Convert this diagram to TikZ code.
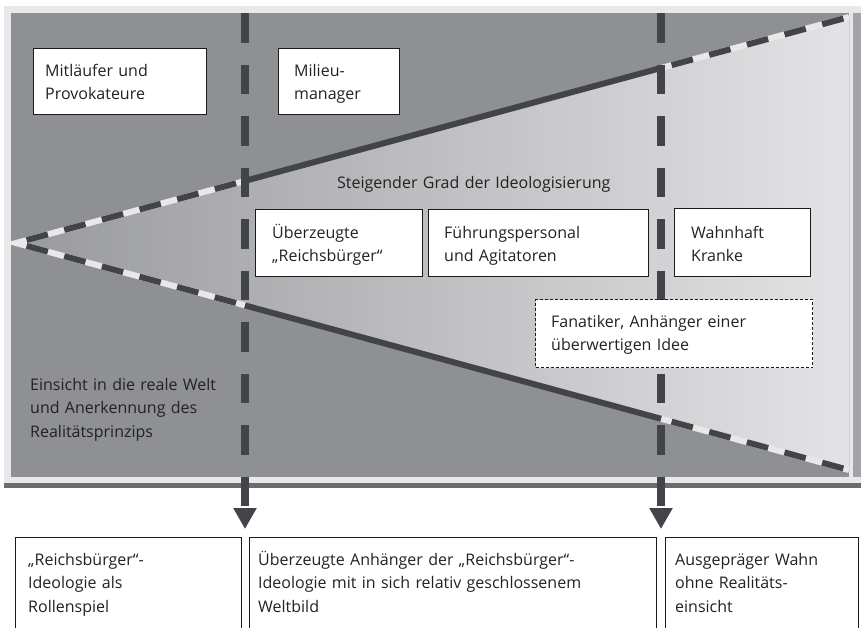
\documentclass[tikz,border=0pt]{standalone}
\usepackage{fontspec}
\setmainfont{Open Sans}
\usetikzlibrary{calc,arrows.meta}
\definecolor{bggray}{HTML}{8F9094}
\definecolor{framelight}{HTML}{E8E8EA}
\definecolor{frameright}{HTML}{A3A4A7}
\definecolor{framedark}{HTML}{6B6C6F}
\definecolor{trileft}{HTML}{999A9D}
\definecolor{triright}{HTML}{E3E3E5}
\definecolor{linedark}{HTML}{434447}
\definecolor{linelight}{HTML}{E8E8E8}
\definecolor{txt}{HTML}{222222}
\definecolor{boxline}{HTML}{1A1A1A}
\begin{document}
\begin{tikzpicture}[x=1pt,y=-1pt,
  box/.style={draw=boxline,line width=1pt,fill=white,inner sep=0pt,anchor=north west},
  dashbox/.style={box,dash pattern=on 3pt off 2pt},
  lbl/.style={anchor=base west,inner sep=0pt,align=left,text=txt,text width=#1,
    font=\fontsize{16}{23.5}\selectfont},
  lbl/.default=200pt,
  vline/.style={draw=linedark,line width=7.5pt,dash pattern=on 29.5pt off 22pt,
    -{Triangle[width=22pt,length=21pt]}},
  whiteline/.style={draw=linelight,line width=6pt,line join=miter},
  darkdash/.style={draw=linedark,line width=6pt,dash pattern=on 22pt off 17pt,dash phase=28pt},
  darksolid/.style={draw=linedark,line width=6pt}
]
\clip (0,0) rectangle (861,627);
\fill[white] (0,0) rectangle (861,627);
% frame
\fill[framelight] (4,6) rectangle (861,483);
\fill[frameright] (853,13) rectangle (861,477);
\fill[framedark] (4,483) rectangle (861,488);
\fill[bggray] (11,13) rectangle (849,477);
% triangle
\coordinate (apex) at (16,243);
\coordinate (ue) at (849,17);
\coordinate (le) at (849,470);
\coordinate (u1) at ($(apex)!0.2749!(ue)$);
\coordinate (u2) at ($(apex)!0.7743!(ue)$);
\coordinate (l1) at ($(apex)!0.2749!(le)$);
\coordinate (l2) at ($(apex)!0.7743!(le)$);
\fill[left color=trileft,right color=triright] (apex) -- (ue) -- (le) -- cycle;
\draw[whiteline] (u1) -- (apex) -- (l1);
\draw[whiteline] (u2) -- (ue);
\draw[whiteline] (l2) -- (le);
\draw[darkdash] (apex) -- (u1);
\draw[darkdash] (apex) -- (l1);
\draw[darkdash] (u2) -- (ue);
\draw[darkdash] (l2) -- (le);
\draw[darksolid] (u1) -- (u2);
\draw[darksolid] (l1) -- (l2);
% vertical dashed lines with arrows
\coordinate (v1top) at (245,13);
\coordinate (v1tip) at (245,529);
\coordinate (v2top) at (661,13);
\coordinate (v2tip) at (661,529);
\draw[vline] (v1top) -- (v1tip);
\draw[vline] (v2top) -- (v2tip);
% boxes in the upper part
\node[box,minimum width=173pt,minimum height=66pt] (mitlbox) at (33,48) {};
\node[lbl] (mitl) at (45,76) {Mitläufer und\\Provokateure};
\node[box,minimum width=121pt,minimum height=66pt] (milbox) at (278,48) {};
\node[lbl] (mil) at (294,76) {Milieu-\\manager};
\node[lbl=320pt] (steig) at (337,188) {Steigender Grad der Ideologisierung};
\node[box,minimum width=167pt,minimum height=67pt] (uebbox) at (255,209) {};
\node[lbl] (ueb) at (272,238) {Überzeugte\\„Reichsbürger“};
\node[box,minimum width=220pt,minimum height=67pt] (fuehbox) at (428,209) {};
\node[lbl] (fueh) at (444,238) {Führungspersonal\\und Agitatoren};
\node[box,minimum width=136pt,minimum height=68pt] (wahnbox) at (674,208) {};
\node[lbl] (wahn) at (691,238) {Wahnhaft\\Kranke};
\node[dashbox,minimum width=277pt,minimum height=68pt] (fanbox) at (535,299) {};
\node[lbl=260pt] (fan) at (551,327) {Fanatiker, Anhänger einer\\überwertigen Idee};
\node[lbl] (einsicht) at (30,390) {Einsicht in die reale Welt\\und Anerkennung des\\Realitätsprinzips};
% bottom boxes
\node[box,minimum width=226pt,minimum height=120pt] (b1box) at (15,537) {};
\node[lbl] (b1) at (28,565) {„Reichsbürger“-\\Ideologie als\\Rollenspiel};
\node[box,minimum width=407pt,minimum height=120pt] (b2box) at (249,537) {};
\node[lbl=395pt] (b2) at (258,565) {Überzeugte Anhänger der „Reichsbürger“-\\Ideologie mit in sich relativ geschlossenem\\Weltbild};
\node[box,minimum width=193pt,minimum height=120pt] (b3box) at (665,537) {};
\node[lbl=180pt] (b3) at (675,565) {Ausgepräger Wahn\\ohne Realitäts-\\einsicht};
\end{tikzpicture}
\end{document}
